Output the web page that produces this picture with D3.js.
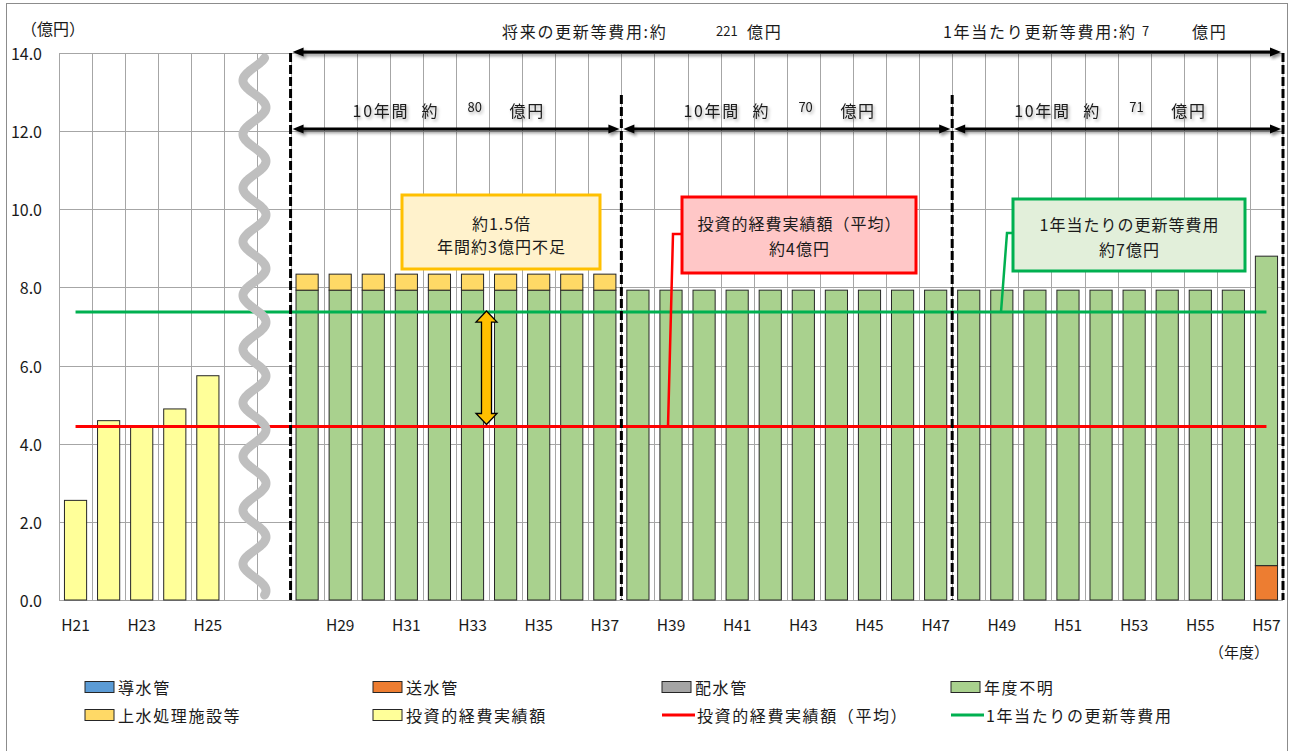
<!DOCTYPE html>
<html>
<head>
<meta charset="utf-8">
<script src="https://cdn.jsdelivr.net/npm/d3@7"></script>
<style>
  body { margin: 0; background: #fff; }
  svg { display: block; }
  text { font-family: "Noto Sans CJK JP", "Noto Sans", sans-serif; fill: #1a1a1a; }
</style>
</head>
<body>
<svg id="chart" width="1292" height="751"></svg>
<script>
// ---- data ----------------------------------------------------------------
const years = d3.range(21, 58).map(n => "H" + n);              // H21 .. H57
const tickYears = ["H21","H23","H25","H29","H31","H33","H35","H37","H39","H41",
                   "H43","H45","H47","H49","H51","H53","H55","H57"];
const actualYears = ["H21","H22","H23","H24","H25"];
const actualValues = [2.55, 4.59, 4.45, 4.89, 5.74];              // 投資的経費実績額
const forecastYears = d3.range(28, 58).map(n => "H" + n);       // H28 .. H57
const intakeValues       = Array(30).fill(0);                    // 導水管
const transmissionValues = [...Array(29).fill(0), 0.88];         // 送水管
const distributionValues = Array(30).fill(0);                    // 配水管
const unknownValues      = [...Array(29).fill(7.93), 7.92];      // 年度不明
const facilityValues     = [...Array(10).fill(0.41), ...Array(20).fill(0)]; // 上水処理施設等
const averageActual = 4.44;      // 投資的経費実績額（平均）
const annualRenewal = 7.37;      // 1年当たりの更新等費用
const periodStarts = ["H28", "H38", "H48"];
const periodEnds   = ["H37", "H47", "H57"];
const periodTotals = [80, 70, 71];
const totalRenewal = 221;
const annualRenewalText = 7;
const yTicks = [0, 2, 4, 6, 8, 10, 12, 14];

// ---- layout --------------------------------------------------------------
const svg = d3.select("#chart");
const plotLeft = 59, plotRight = 1283, plotTop = 53, plotBottom = 600;

const x = d3.scaleBand().domain(years).range([plotLeft, plotRight])
  .paddingInner(0.33).paddingOuter(0.165);
const y = d3.scaleLinear().domain([0, 14]).range([plotBottom, plotTop]);
const step = x.step();
const slotLeft = d => x(d) - step * 0.165;
const slotRight = d => slotLeft(d) + step;
const cx = d => x(d) + x.bandwidth() / 2;

const defs = svg.append("defs");
const sh = defs.append("filter").attr("id", "shadow")
  .attr("x", "-5%").attr("y", "-50%").attr("width", "110%").attr("height", "200%");
sh.append("feDropShadow").attr("dx", 2).attr("dy", 2.5).attr("stdDeviation", 1.6)
  .attr("flood-color", "#000").attr("flood-opacity", 0.45);
const tsh = defs.append("filter").attr("id", "textShadow")
  .attr("x", "-20%").attr("y", "-50%").attr("width", "140%").attr("height", "200%");
tsh.append("feDropShadow").attr("dx", 1.5).attr("dy", 2).attr("stdDeviation", 1.5)
  .attr("flood-color", "#000").attr("flood-opacity", 0.35);

// outer frame
svg.append("rect").attr("x", 6.5).attr("y", 3.5).attr("width", 1281).attr("height", 760)
  .attr("fill", "none").attr("stroke", "#8c8c8c").attr("stroke-width", 1);

// ---- grid ----------------------------------------------------------------
const grid = svg.append("g").attr("stroke", "#a6a6a6").attr("stroke-width", 1);
grid.selectAll("line.h").data(yTicks).join("line")
  .attr("x1", plotLeft).attr("x2", plotRight)
  .attr("y1", d => Math.round(y(d)) + 0.5).attr("y2", d => Math.round(y(d)) + 0.5);
grid.selectAll("line.v").data(years.concat(["end"])).join("line")
  .attr("x1", d => d === "end" ? plotRight : Math.round(slotLeft(d)) + 0.5)
  .attr("x2", d => d === "end" ? plotRight : Math.round(slotLeft(d)) + 0.5)
  .attr("y1", plotTop).attr("y2", plotBottom);

// y axis labels
svg.append("g").selectAll("text").data(yTicks).join("text")
  .attr("x", 42).attr("y", d => y(d)).attr("text-anchor", "end")
  .attr("dominant-baseline", "central").style("font-size", "16px")
  .text(d => d.toFixed(1));
svg.append("text").attr("x", 21).attr("y", 28).attr("dominant-baseline", "central")
  .style("font-size", "16px").text("（億円）");

// x axis labels
svg.append("g").selectAll("text").data(tickYears).join("text")
  .attr("x", d => cx(d)).attr("y", 624).attr("text-anchor", "middle")
  .attr("dominant-baseline", "central").style("font-size", "15.5px").text(d => d);
svg.append("text").attr("x", 1269).attr("y", 651).attr("text-anchor", "end")
  .attr("dominant-baseline", "central").style("font-size", "15px").text("（年度）");

// ---- bars ----------------------------------------------------------------
const barStroke = "#262626";
svg.append("g").selectAll("rect").data(actualYears).join("rect")
  .attr("x", d => x(d)).attr("width", x.bandwidth())
  .attr("y", (d, i) => y(actualValues[i])).attr("height", (d, i) => y(0) - y(actualValues[i]))
  .attr("fill", "#ffff99").attr("stroke", barStroke).attr("stroke-width", 1);

const seriesKeys = ["intake", "transmission", "distribution", "unknown", "facility"];
const seriesColors = { intake: "#5b9bd5", transmission: "#ed7d31", distribution: "#a5a5a5",
                       unknown: "#a9d18e", facility: "#ffd966" };
const table = forecastYears.map((yr, i) => ({
  year: yr, intake: intakeValues[i], transmission: transmissionValues[i],
  distribution: distributionValues[i], unknown: unknownValues[i], facility: facilityValues[i]
}));
const stacked = d3.stack().keys(seriesKeys)(table);
svg.append("g").selectAll("g").data(stacked).join("g")
  .attr("fill", s => seriesColors[s.key])
  .selectAll("rect").data(s => s.filter(p => p[1] - p[0] > 0)).join("rect")
  .attr("x", p => x(p.data.year)).attr("width", x.bandwidth())
  .attr("y", p => y(p[1])).attr("height", p => y(p[0]) - y(p[1]))
  .attr("stroke", barStroke).attr("stroke-width", 1);

// ---- reference lines -----------------------------------------------------
svg.append("line").attr("x1", cx(years[0])).attr("x2", cx(years[years.length - 1]))
  .attr("y1", y(annualRenewal)).attr("y2", y(annualRenewal))
  .attr("stroke", "#00b050").attr("stroke-width", 3);
svg.append("line").attr("x1", cx(years[0])).attr("x2", cx(years[years.length - 1]))
  .attr("y1", y(averageActual)).attr("y2", y(averageActual))
  .attr("stroke", "#ff0000").attr("stroke-width", 3);

// ---- break mark (wavy line) ----------------------------------------------
const waveX = slotLeft("H27") - 3;
const waveTop = 58, waveBottom = 595, wavePeriod = 53.7, waveAmp = 11.5;
const wavePts = d3.range(waveTop, waveBottom + 0.5, 1)
  .map(v => [waveX + waveAmp * Math.cos(2 * Math.PI * (v - waveTop) / wavePeriod + 0.5), v]);
svg.append("path").attr("d", d3.line()(wavePts)).attr("fill", "none")
  .attr("stroke", "#bfbfbf").attr("stroke-width", 9).attr("stroke-linecap", "round");

// ---- period dividers -----------------------------------------------------
const dividers = [
  { x: slotLeft(periodStarts[0]), y1: plotTop },
  { x: slotLeft(periodStarts[1]), y1: 95 },
  { x: slotLeft(periodStarts[2]), y1: 95 },
  { x: slotRight(periodEnds[2]), y1: plotTop }
];
svg.append("g").selectAll("line").data(dividers).join("line")
  .attr("x1", d => d.x).attr("x2", d => d.x).attr("y1", d => d.y1).attr("y2", plotBottom)
  .attr("stroke", "#000").attr("stroke-width", 3).attr("stroke-dasharray", "9,3");

// double-headed arrows
function hArrow(x1, x2, yy) {
  const g = svg.append("g").attr("filter", "url(#shadow)");
  const hl = 11, hw = 4.5;
  g.append("line").attr("x1", x1 + hl - 1).attr("x2", x2 - hl + 1).attr("y1", yy).attr("y2", yy)
    .attr("stroke", "#000").attr("stroke-width", 3);
  g.append("path").attr("d", `M${x1},${yy} L${x1 + hl},${yy - hw} L${x1 + hl},${yy + hw} Z`).attr("fill", "#000");
  g.append("path").attr("d", `M${x2},${yy} L${x2 - hl},${yy - hw} L${x2 - hl},${yy + hw} Z`).attr("fill", "#000");
}
hArrow(slotLeft(periodStarts[0]) + 2, slotRight(periodEnds[2]) - 2, 52);
periodStarts.forEach((s, i) => hArrow(slotLeft(s) + 2, slotRight(periodEnds[i]) - 2, 129));

// headline texts
function pieces(list, yy, shadow) {
  list.forEach(p => {
    const t = svg.append("text").attr("x", p.x).attr("y", yy + (p.dy || 0))
      .attr("dominant-baseline", "central").style("font-size", (p.size || 16) + "px")
      .style("letter-spacing", p.size ? "0px" : "1.7px").text(p.t);
    if (shadow) t.attr("filter", "url(#textShadow)");
  });
}
pieces([
  { x: 502, t: "将来の更新等費用:約" },
  { x: 716, t: String(totalRenewal), size: 13, dy: -1 },
  { x: 747, t: "億円" }
], 31, false);
pieces([
  { x: 943, t: "1年当たり更新等費用:約" },
  { x: 1142, t: String(annualRenewalText), size: 13, dy: -1 },
  { x: 1192, t: "億円" }
], 31, false);
periodStarts.forEach((s, i) => {
  const x0 = slotLeft(s);
  pieces([
    { x: x0 + 62, t: "10年間" },
    { x: x0 + 131, t: "約" },
    { x: x0 + 177, t: String(periodTotals[i]), size: 13, dy: -4 },
    { x: x0 + 219, t: "億円" }
  ], 110, true);
});

// ---- shortfall arrow between the two reference lines ----------------------
(function () {
  const ax = 486.5, t1 = y(annualRenewal) - 1, t2 = y(averageActual) - 2;
  const sw = 5, hw = 10.5, hl = 11;
  const d = `M${ax},${t1} L${ax + hw},${t1 + hl} L${ax + sw},${t1 + hl} L${ax + sw},${t2 - hl}
    L${ax + hw},${t2 - hl} L${ax},${t2} L${ax - hw},${t2 - hl} L${ax - sw},${t2 - hl}
    L${ax - sw},${t1 + hl} L${ax - hw},${t1 + hl} Z`;
  svg.append("path").attr("d", d).attr("fill", "#ffc000").attr("stroke", "#000").attr("stroke-width", 1.3);
})();

// ---- callouts --------------------------------------------------------------
function callout(b) {
  if (b.leader) {
    svg.append("polyline").attr("points", b.leader.map(p => p.join(",")).join(" "))
      .attr("fill", "none").attr("stroke", b.stroke).attr("stroke-width", 2.5);
  }
  svg.append("rect").attr("x", b.x).attr("y", b.y).attr("width", b.w).attr("height", b.h)
    .attr("fill", b.fill).attr("stroke", b.stroke).attr("stroke-width", 3);
  b.lines.forEach((l, i) => svg.append("text").attr("x", b.x + b.w / 2 + 0.5).attr("y", b.ly[i])
    .attr("text-anchor", "middle").attr("dominant-baseline", "central")
    .style("font-size", "16px").style("letter-spacing", "1px").text(l));
}
callout({ x: 402, y: 195, w: 198, h: 74, fill: "#fff2cc", stroke: "#ffc000",
  lines: ["約1.5倍", "年間約3億円不足"], ly: [223, 246] });
callout({ x: 682, y: 197, w: 234, h: 76, fill: "#ffc7c7", stroke: "#ff0000",
  lines: ["投資的経費実績額（平均）", "約4億円"], ly: [223, 248],
  leader: [[682, 234], [673, 234], [668, y(averageActual)]] });
callout({ x: 1013, y: 199, w: 232, h: 72, fill: "#e2efda", stroke: "#00b050",
  lines: ["1年当たりの更新等費用", "約7億円"], ly: [224, 249],
  leader: [[1013, 233], [1007, 233], [1001, y(annualRenewal)]] });

// ---- legend ----------------------------------------------------------------
const legendItems = [
  { label: "導水管", color: seriesColors.intake, type: "box" },
  { label: "送水管", color: seriesColors.transmission, type: "box" },
  { label: "配水管", color: seriesColors.distribution, type: "box" },
  { label: "年度不明", color: seriesColors.unknown, type: "box" },
  { label: "上水処理施設等", color: seriesColors.facility, type: "box" },
  { label: "投資的経費実績額", color: "#ffff99", type: "box" },
  { label: "投資的経費実績額（平均）", color: "#ff0000", type: "line" },
  { label: "1年当たりの更新等費用", color: "#00b050", type: "line" }
];
const legendCols = [85, 373, 662, 951], legendRows = [687, 715];
const lg = svg.append("g").selectAll("g").data(legendItems).join("g")
  .attr("transform", (d, i) => `translate(${legendCols[i % 4]},${legendRows[Math.floor(i / 4)]})`);
lg.filter(d => d.type === "box").append("rect")
  .attr("x", 0).attr("y", -5.5).attr("width", 29).attr("height", 11)
  .attr("fill", d => d.color).attr("stroke", "#262626").attr("stroke-width", 1);
lg.filter(d => d.type === "line").append("line")
  .attr("x1", 0).attr("x2", 33).attr("y1", 0).attr("y2", 0)
  .attr("stroke", d => d.color).attr("stroke-width", 3);
lg.append("text").attr("x", d => d.type === "box" ? 33 : 35).attr("y", 0)
  .attr("dominant-baseline", "central").style("font-size", "16px")
  .style("letter-spacing", "1.6px").text(d => d.label);
</script>
</body>
</html>
